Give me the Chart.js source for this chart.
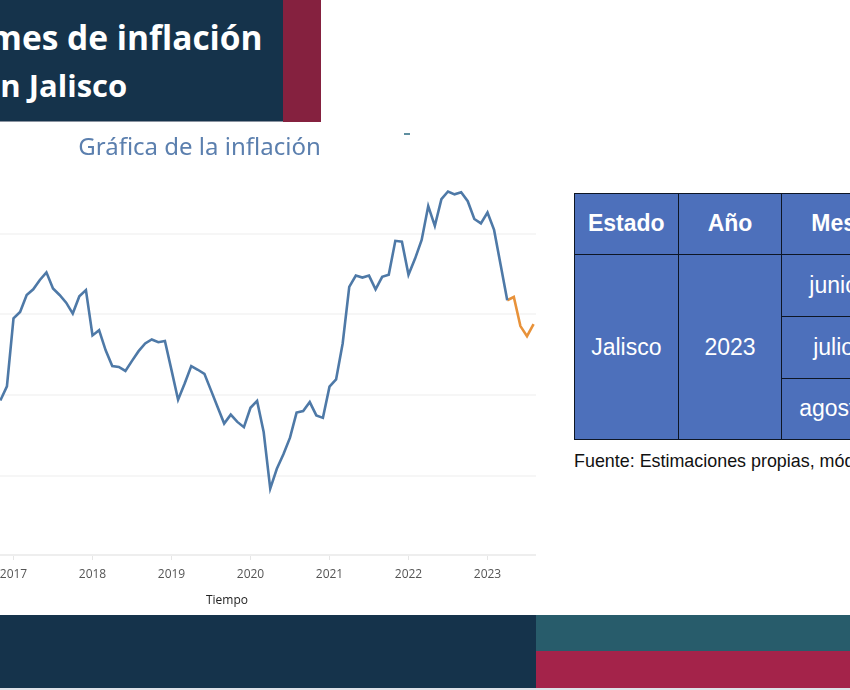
<!DOCTYPE html>
<html lang="es">
<head>
<meta charset="utf-8">
<title>Gráfica de la inflación</title>
<script src="https://cdn.jsdelivr.net/npm/chart.js@4"></script>
<style>
  html, body { margin: 0; padding: 0; background: #fff; width: 850px; height: 690px; overflow: hidden; }
  .caja { position: absolute; }
  #banner { left: 0; top: 0; width: 283px; height: 122px; background: #15334b; border-bottom: 1px solid #8a93a0; box-sizing: border-box; }
  #bannerRojo { left: 283px; top: 0; width: 38px; height: 122px; background: #85213f; }
  .tituloLinea { position: absolute; color: #fff; font-family: "Open Sans", sans-serif; font-weight: bold; white-space: nowrap; }
  #marca { left: 404px; top: 133px; width: 6px; height: 2px; background: #5f8fa0; }
  canvas { position: absolute; left: -137px; top: 130px; }
  #tabla { position: absolute; left: 574px; top: 192.5px; border-collapse: collapse; table-layout: fixed; width: 312px; font-family: "Liberation Sans", Arial, sans-serif; color: #fff; font-size: 23px; }
  #tabla td, #tabla th { background: #4d70bb; border: 1.5px solid #0e1624; width: 102.5px; padding: 0; text-align: center; }
  #tabla tr { height: 61.7px; }
  #fuente { position: absolute; left: 574px; top: 451px; font: 17.9px "Liberation Sans", Arial, sans-serif; color: #111; white-space: nowrap; }
  #pieAzul { left: 0; top: 615px; width: 536px; height: 73px; background: #15334b; }
  #pieVerde { left: 536px; top: 615px; width: 314px; height: 36px; background: #285c6b; }
  #pieRojo { left: 536px; top: 651px; width: 314px; height: 37px; background: #a4234a; }
  #pieLinea { left: 0; top: 688px; width: 850px; height: 2px; background: #dfe2e8; }
</style>
</head>
<body>
<div class="caja" id="banner"></div>
<div class="caja" id="bannerRojo"></div>
<div class="tituloLinea" style="left:-11px;top:14px;font-size:33.5px">mes de inflación</div>
<div class="tituloLinea" style="left:-18px;top:64px;font-size:31px">en Jalisco</div>
<div class="caja" id="marca"></div>

<canvas id="grafica" width="673" height="485"></canvas>

<table id="tabla">
  <tr><th>Estado</th><th>Año</th><th>Mes</th></tr>
  <tr><td rowspan="3">Jalisco</td><td rowspan="3">2023</td><td>junio</td></tr>
  <tr><td>julio</td></tr>
  <tr><td>agosto</td></tr>
</table>
<div id="fuente">Fuente: Estimaciones propias, módulo</div>

<div class="caja" id="pieAzul"></div>
<div class="caja" id="pieVerde"></div>
<div class="caja" id="pieRojo"></div>
<div class="caja" id="pieLinea"></div>

<script>
// Inflacion anual en Jalisco, un valor por mes desde noviembre de 2016
const inicio = 2016 + 10 / 12;
const observada = [
  3.87, 4.22,
  5.90, 6.06, 6.48, 6.62, 6.85, 7.04, 6.64, 6.48, 6.29, 6.02, 6.45, 6.60,
  5.48, 5.61, 5.11, 4.72, 4.70, 4.60, 4.85, 5.09, 5.28, 5.38, 5.31, 5.34,
  4.62, 3.89, 4.29, 4.72, 4.63, 4.53, 4.12, 3.71, 3.30, 3.52, 3.34, 3.21,
  3.69, 3.86, 3.09, 1.69, 2.18, 2.54, 2.95, 3.57, 3.61, 3.83, 3.50, 3.44,
  4.21, 4.39, 5.28, 6.68, 6.96, 6.91, 6.96, 6.62, 6.93, 6.98, 7.82, 7.80,
  6.98, 7.38, 7.84, 8.68, 8.19, 8.85, 9.04, 8.97, 9.02, 8.80, 8.36, 8.25,
  8.52, 8.09, 7.22, 6.35
];
// Pronostico: parte de abril de 2023 y llega a agosto
const pronostico = [6.35, 6.43, 5.71, 5.46, 5.76];

const puntosObservada = observada.map((v, i) => ({ x: inicio + i / 12, y: v }));
const puntosPronostico = pronostico.map((v, i) => ({
  x: inicio + (observada.length - 1 + i) / 12,
  y: v,
}));

const ctx = document.getElementById("grafica").getContext("2d");
new Chart(ctx, {
  type: "line",
  data: {
    datasets: [
      {
        label: "Observada",
        data: puntosObservada,
        borderColor: "#4e79a7",
        borderWidth: 2.6,
        pointRadius: 0,
        tension: 0,
      },
      {
        label: "Pronóstico",
        data: puntosPronostico,
        borderColor: "#e8923a",
        borderWidth: 2.6,
        pointRadius: 0,
        tension: 0,
      },
    ],
  },
  options: {
    responsive: false,
    animation: false,
    scales: {
      x: {
        type: "linear",
        min: 2015.791,
        max: 2023.614,
        border: { color: "#eeeeee", width: 2 },
        grid: { drawOnChartArea: false, color: "#e6e6e6", tickLength: 5 },
        ticks: {
          stepSize: 1,
          includeBounds: false,
          maxRotation: 0,
          color: "#555",
          font: { family: "Open Sans", size: 12 },
          padding: 7,
          callback: function (value) {
            return String(value);
          },
        },
        title: {
          display: true,
          text: "Tiempo",
          color: "#222",
          font: { family: "Open Sans", size: 12 },
          padding: { top: 8, bottom: 7 },
        },
        afterFit: function (scale) {
          scale.height = 60;
        },
      },
      y: {
        min: 0.047,
        max: 9.76,
        border: { display: false },
        grid: { color: "#f6f6f6", lineWidth: 2, drawTicks: false },
        ticks: { display: false, stepSize: 2, includeBounds: false },
        afterFit: function (scale) {
          scale.width = 55;
        },
      },
    },
    plugins: {
      legend: { display: false },
      tooltip: { enabled: false },
      title: {
        display: true,
        text: "Gráfica de la inflación",
        color: "#5b7fae",
        font: { family: "Noto Sans", size: 24, weight: "normal" },
        padding: { top: 3.6, bottom: 0 },
      },
    },
  },
});
</script>
</body>
</html>
